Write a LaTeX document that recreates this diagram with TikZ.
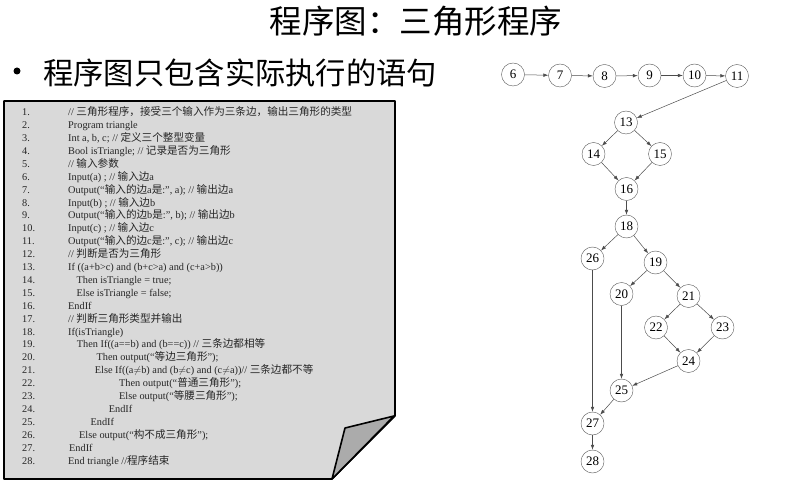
\documentclass[tikz,border=0pt]{standalone}
\usepackage{fontspec}
\setmainfont{Liberation Serif}
\newfontfamily\cjk{Noto Sans CJK SC}
\usetikzlibrary{arrows.meta}
\newcommand{\zh}[1]{{\cjk\fontsize{10.6}{12}\selectfont #1}}

\begin{document}
\begin{tikzpicture}[
  x=1pt, y=-1pt,
  vtx/.style={circle, draw=black!65, fill=white, minimum size=23pt, inner sep=0pt, font=\fontsize{13}{13}\selectfont},
  fl/.style={-{Latex[length=5pt, width=3.6pt]}, draw=black!70, line width=0.5pt},
  lnum/.style={anchor=west, inner sep=0pt, text height=8pt, text depth=2.5pt, font=\fontsize{10.3}{12}\selectfont, text=black!85},
  codeline/.style={lnum}
]
\useasboundingbox (0,0) rectangle (797,486);

% title and bullet
\node[font=\cjk\fontsize{32.5}{32.5}\selectfont] (title) at (416,21) {程序图：三角形程序};
\node[circle, fill=black, inner sep=0pt, minimum size=7pt] (dot) at (17,71) {};
\node[anchor=west, inner sep=0pt, font=\cjk\fontsize{30.3}{30.3}\selectfont] (bul) at (43,73) {程序图只包含实际执行的语句};

% the page with the folded corner
\draw[line width=1.6pt, fill=black!15, line join=round] (4,101) -- (395,101) -- (395,416) -- (332,479) -- (4,479) -- cycle;
\draw[line width=1.6pt, fill=black!33, line join=round] (394,416) -- (345,428) -- (332,479) -- cycle;

% listing
\foreach \n/\ind/\txt in {
  1/0/{// \zh{三角形程序，接受三个输入作为三条边，输出三角形的类型}},
  2/0/{Program triangle},
  3/0/{Int a, b, c; // \zh{定义三个整型变量}},
  4/0/{Bool isTriangle; // \zh{记录是否为三角形}},
  5/0/{// \zh{输入参数}},
  6/0/{Input(a) ; // \zh{输入边}a},
  7/0/{Output(“\zh{输入的边}a\zh{是}:”, a); // \zh{输出边}a},
  8/0/{Input(b) ; // \zh{输入边}b},
  9/0/{Output(“\zh{输入的边}b\zh{是}:”, b); // \zh{输出边}b},
  10/0/{Input(c) ; // \zh{输入边}c},
  11/0/{Output(“\zh{输入的边}c\zh{是}:”, c); // \zh{输出边}c},
  12/0/{// \zh{判断是否为三角形}},
  13/0/{If ((a+b>c) and (b+c>a) and (c+a>b))},
  14/8.4/{Then isTriangle = true;},
  15/8.4/{Else isTriangle = false;},
  16/0/{EndIf},
  17/0/{// \zh{判断三角形类型并输出}},
  18/0/{If(isTriangle)},
  19/8.7/{Then If((a==b) and (b==c)) // \zh{三条边都相等}},
  20/28.4/{Then output(“\zh{等边三角形}”);},
  21/26.7/{Else If((a$\neq$b) and (b$\neq$c) and (c$\neq$a))// \zh{三条边都不等}},
  22/51/{Then output(“\zh{普通三角形}”);},
  23/51/{Else output(“\zh{等腰三角形}”);},
  24/40.7/{EndIf},
  25/22.4/{EndIf},
  26/11/{Else output(“\zh{构不成三角形}”);},
  27/1/{EndIf},
  28/0/{End triangle //\zh{程序结束}}}{
  \node[lnum] (n\n) at (22,{113+(\n-1)*12.9}) {\n.};
  \node[codeline] (c\n) at ({68+\ind},{113+(\n-1)*12.9}) {\txt};
}

% program graph
\node[vtx] (v6) at (513,74.5) {6};
\node[vtx] (v7) at (560,75.5) {7};
\node[vtx] (v8) at (604.5,76) {8};
\node[vtx] (v9) at (649.5,75.5) {9};
\node[vtx] (v10) at (694.5,75.5) {10};
\node[vtx] (v11) at (737,76) {11};
\node[vtx] (v13) at (626,122.5) {13};
\node[vtx] (v14) at (593.5,154) {14};
\node[vtx] (v15) at (660,154) {15};
\node[vtx] (v16) at (626.5,189) {16};
\node[vtx] (v18) at (626.5,226.5) {18};
\node[vtx] (v26) at (592.5,258.5) {26};
\node[vtx] (v19) at (655.5,262.5) {19};
\node[vtx] (v20) at (621.5,294) {20};
\node[vtx] (v21) at (688.5,296) {21};
\node[vtx] (v22) at (656,327.5) {22};
\node[vtx] (v23) at (722.5,327.5) {23};
\node[vtx] (v24) at (688.5,361) {24};
\node[vtx] (v25) at (621.5,390.5) {25};
\node[vtx] (v27) at (592.5,423.5) {27};
\node[vtx] (v28) at (592.5,461.5) {28};
\draw[fl] (v6)--(v7); \draw[fl] (v7)--(v8); \draw[fl] (v8)--(v9);
\draw[fl] (v9)--(v10); \draw[fl] (v10)--(v11); \draw[fl] (v11)--(v13);
\draw[fl] (v13)--(v14); \draw[fl] (v13)--(v15); \draw[fl] (v14)--(v16);
\draw[fl] (v15)--(v16); \draw[fl] (v16)--(v18); \draw[fl] (v18)--(v26);
\draw[fl] (v18)--(v19); \draw[fl] (v19)--(v20); \draw[fl] (v19)--(v21);
\draw[fl] (v21)--(v22); \draw[fl] (v21)--(v23); \draw[fl] (v22)--(v24);
\draw[fl] (v23)--(v24); \draw[fl] (v24)--(v25); \draw[fl] (v20)--(v25);
\draw[fl] (v25)--(v27); \draw[fl] (v26)--(v27); \draw[fl] (v27)--(v28);
\end{tikzpicture}
\end{document}
